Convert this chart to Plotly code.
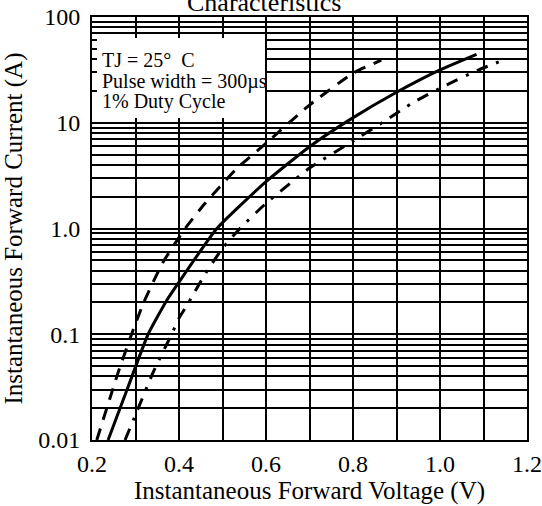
import plotly.graph_objects as go

# ---- data ----
v_solid = [0.237, 0.28, 0.329, 0.372, 0.398, 0.487, 0.60, 0.70, 0.793, 0.90, 1.00, 1.084]
i_solid = [0.01, 0.0295, 0.10, 0.21, 0.303, 1.0, 2.77, 5.94, 10.7, 19.4, 31.6, 44.4]

v_dash = [0.211, 0.2605, 0.291, 0.318, 0.362, 0.414, 0.46, 0.494, 0.533, 0.60, 0.70, 0.80, 0.865]
i_dash = [0.01, 0.044, 0.10, 0.196, 0.47, 1.0, 1.73, 2.48, 3.7, 6.4, 14.7, 29.4, 39.0]

v_dashdot = [0.276, 0.30, 0.341, 0.383, 0.40, 0.421, 0.46, 0.50, 0.54, 0.60, 0.70, 0.80, 0.87, 0.939, 1.015, 1.088, 1.145]
i_dashdot = [0.01, 0.0173, 0.044, 0.10, 0.142, 0.196, 0.37, 0.65, 1.0, 1.73, 3.73, 6.7, 10.2, 15.6, 22.8, 31.5, 39.0]

x_tickvals = [0.2, 0.4, 0.6, 0.8, 1.0, 1.2]
x_ticktext = ["0.2", "0.4", "0.6", "0.8", "1.0", "1.2"]
x_minorvals = [0.3, 0.5, 0.7, 0.9, 1.1]
y_tickvals = [0.01, 0.1, 1, 10, 100]
y_ticktext = ["0.01", "0.1", "1.0", "10", "100"]
y_minorvals = [m * d for d in [0.01, 0.1, 1, 10] for m in [2, 3, 4, 5, 6, 7, 8, 9]]

legend_lines = ["TJ = 25°  C", "Pulse width = 300µs", "1% Duty Cycle"]

FONT = "Liberation Serif"

# plot area in page pixels (body margin removed by post_script)
W, H = 542, 506
L, R, T, B = 92, 527, 17, 440


def py2paper(py):
    return (B - py) / (B - T)


def px2paper(px):
    return (px - L) / (R - L)


fig = go.Figure()
fig.add_trace(go.Scatter(x=v_solid, y=i_solid, mode="lines", line=dict(color="black", width=3, shape="spline", smoothing=0.5), showlegend=False))
fig.add_trace(go.Scatter(x=v_dash, y=i_dash, mode="lines", line=dict(color="black", width=3, dash="12px,9px", shape="spline", smoothing=0.5), showlegend=False))
fig.add_trace(go.Scatter(x=v_dashdot, y=i_dashdot, mode="lines", line=dict(color="black", width=3, dash="12px,9px,3px,9px", shape="spline", smoothing=0.5), showlegend=False))

# white legend box covering the grid
fig.add_shape(type="rect", xref="paper", yref="paper",
              x0=px2paper(97), x1=px2paper(265), y0=py2paper(118), y1=py2paper(38),
              fillcolor="white", line=dict(width=0), layer="above")

for txt, pyc in zip(legend_lines, [60, 81, 102]):
    fig.add_annotation(text=txt, xref="paper", yref="paper", x=px2paper(100), y=py2paper(pyc),
                       xanchor="left", yanchor="middle", showarrow=False,
                       font=dict(family=FONT, size=20, color="black"))

fig.add_annotation(text="Characteristics", xref="paper", yref="paper",
                   x=px2paper(264), y=py2paper(2), xanchor="center", yanchor="middle",
                   showarrow=False, font=dict(family=FONT, size=26, color="black"))

grid = dict(showgrid=True, gridcolor="black", gridwidth=2)

fig.update_xaxes(range=[0.2, 1.2], tickmode="array", tickvals=x_tickvals, ticktext=x_ticktext,
                 ticks="outside", ticklen=1, tickcolor="rgba(0,0,0,0)",
                 showline=True, linecolor="black", linewidth=2, mirror=True,
                 minor=dict(tickmode="array", tickvals=x_minorvals, showgrid=True, gridcolor="black", gridwidth=2),
                 zeroline=False,
                 title=dict(text="Instantaneous Forward Voltage (V)", font=dict(family=FONT, size=25, color="black"), standoff=4),
                 tickfont=dict(family=FONT, size=24, color="black"), **grid)

fig.update_yaxes(type="log", range=[-2, 2], tickmode="array", tickvals=y_tickvals, ticktext=y_ticktext,
                 ticks="outside", ticklen=5, tickcolor="rgba(0,0,0,0)",
                 showline=True, linecolor="black", linewidth=2, mirror=True,
                 minor=dict(tickmode="array", tickvals=y_minorvals, showgrid=True, gridcolor="black", gridwidth=2),
                 zeroline=False,
                 title=dict(text="Instantaneous Forward Current (A)", font=dict(family=FONT, size=25, color="black"), standoff=8),
                 tickfont=dict(family=FONT, size=24, color="black"), **grid)

fig.update_layout(width=W, height=H, margin=dict(l=L, r=W - R, t=T, b=H - B, autoexpand=False),
                  paper_bgcolor="white", plot_bgcolor="white", showlegend=False)

fig.write_html("out.html", config={"displayModeBar": False},
               post_script="document.body.style.margin='0';document.body.style.overflow='hidden';")
